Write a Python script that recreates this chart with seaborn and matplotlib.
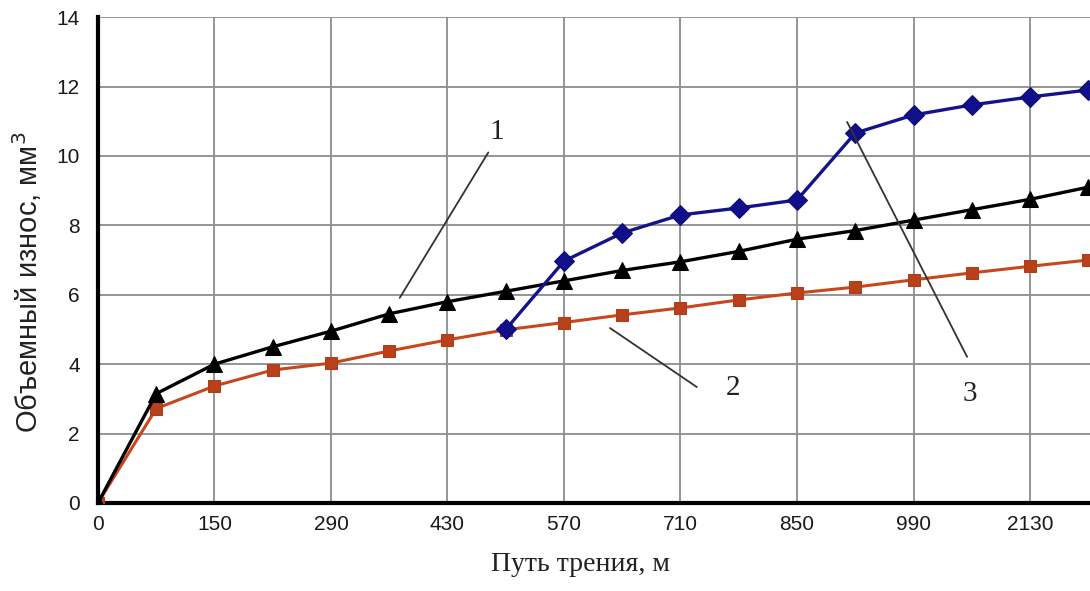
import numpy as np
import pandas as pd
import matplotlib
matplotlib.use("Agg")
import matplotlib.pyplot as plt
import seaborn as sns

# tick labels along the friction path (every second measurement point)
tick_labels = ["0", "150", "290", "430", "570", "710", "850", "990", "2130"]

# measurement point index (half-steps between labelled ticks)
points_1 = list(range(18))
wear_1 = [0, 3.15, 4.0, 4.5, 4.95, 5.45, 5.8, 6.1, 6.4, 6.7, 6.95, 7.25,
          7.6, 7.85, 8.15, 8.45, 8.75, 9.1]

points_2 = list(range(18))
wear_2 = [0, 2.72, 3.37, 3.83, 4.03, 4.38, 4.7, 4.99, 5.2, 5.42, 5.62, 5.85,
          6.05, 6.22, 6.43, 6.63, 6.82, 7.0]

points_3 = list(range(7, 18))
wear_3 = [5.0, 6.97, 7.78, 8.3, 8.5, 8.73, 10.66, 11.18, 11.47, 11.7, 11.9]

sns.set_style("white")
plt.rcParams["font.family"] = ["Liberation Sans", "DejaVu Sans"]

fig = plt.figure(figsize=(10.9, 5.91), dpi=100)
ax = fig.add_axes([0.0899, 0.149, 0.9101, 0.822])

ax.set_axisbelow(True)
ax.grid(True, color="#8c8c8c", lw=1.3)

sns.lineplot(x=points_2, y=wear_2, ax=ax, color="#c8461c", lw=2.2,
             marker="s", markersize=9, markeredgecolor="#b03c18",
             markerfacecolor="#b8401a", zorder=3)
sns.lineplot(x=points_1, y=wear_1, ax=ax, color="black", lw=2.4,
             marker="^", markersize=11, markeredgecolor="black", zorder=4)
sns.lineplot(x=points_3, y=wear_3, ax=ax, color="#14148a", lw=2.4,
             marker="D", markersize=10, markeredgecolor="#0c0c70",
             markerfacecolor="#10108a", zorder=5)

ax.set_xlim(0, 17.03)
ax.set_ylim(0, 14)
ax.set_xticks(range(0, 18, 2))
ax.set_xticklabels(tick_labels)
ax.set_yticks(range(0, 15, 2))
ax.tick_params(axis="both", length=0, labelsize=15, colors="#1a1a1a")
ax.tick_params(axis="x", pad=9)
ax.tick_params(axis="y", pad=13)

for side in ["top", "right"]:
    ax.spines[side].set_visible(False)
for side in ["left", "bottom"]:
    ax.spines[side].set_color("black")
    ax.spines[side].set_linewidth(3)

serif = ["Liberation Serif", "DejaVu Serif"]
ax.set_xlabel("Путь трения, м", family=serif, fontsize=20, color="#222222")
ax.xaxis.set_label_coords(0.486, -0.1)
ax.set_ylabel("Объемный износ, мм$^3$", fontsize=21, color="#222222")
ax.yaxis.set_label_coords(-0.054, 0.455)

# curve numbers with leader lines
ax.plot([5.18, 6.7], [5.91, 10.1], color="#333333", lw=1.3, zorder=6)
ax.plot([8.79, 10.28], [5.04, 3.34], color="#333333", lw=1.3, zorder=6)
ax.plot([12.86, 14.92], [10.98, 4.21], color="#333333", lw=1.3, zorder=6)
box = dict(facecolor="white", edgecolor="none", pad=4)
ax.text(6.85, 10.7, "1", family=serif, fontsize=21, ha="center", va="center",
        color="#222222", zorder=7)
ax.text(10.9, 3.3, "2", family=serif, fontsize=21, ha="center", va="center",
        color="#222222", bbox=box, zorder=7)
ax.text(14.97, 3.15, "3", family=serif, fontsize=21, ha="center", va="center",
        color="#222222", bbox=box, zorder=7)

fig.savefig("out.png", dpi=100)
